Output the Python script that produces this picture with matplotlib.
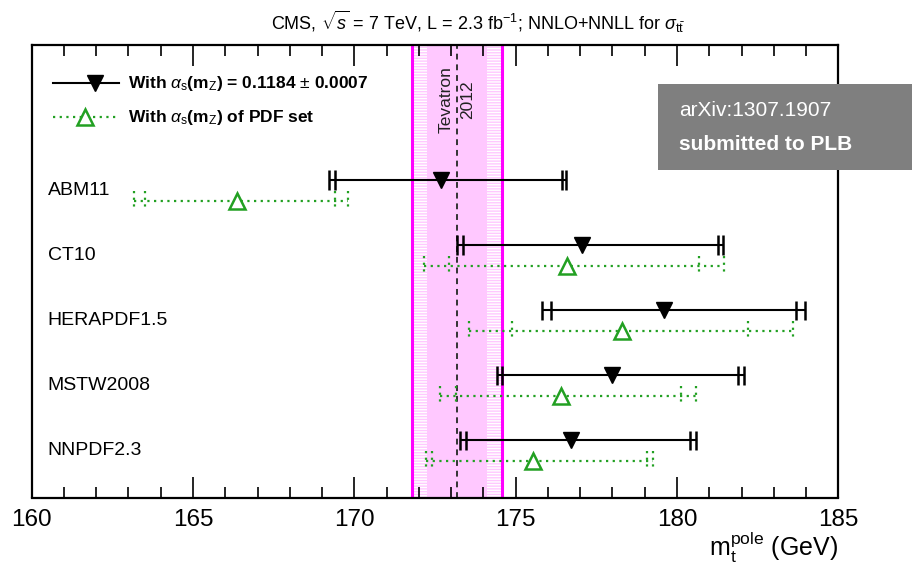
import matplotlib
matplotlib.use("Agg")
import matplotlib.pyplot as plt
from matplotlib.patches import Rectangle

# --- data (GeV) ---
pdf_sets = ["ABM11", "CT10", "HERAPDF1.5", "MSTW2008", "NNPDF2.3"]

# alpha_s fixed to 0.1184 (black, filled down-triangles)
fix_center = [172.70, 177.05, 179.60, 178.00, 176.73]
fix_in_lo = [169.41, 173.36, 176.09, 174.59, 173.47]
fix_in_hi = [176.44, 181.28, 183.68, 181.89, 180.39]
fix_out_lo = [169.20, 173.18, 175.81, 174.41, 173.26]
fix_out_hi = [176.56, 181.44, 183.96, 182.07, 180.58]

# alpha_s of the PDF set (green, open up-triangles)
pdf_center = [166.35, 176.59, 178.29, 176.40, 175.54]
pdf_in_lo = [163.50, 172.94, 174.88, 173.15, 172.42]
pdf_in_hi = [169.41, 180.69, 182.21, 180.11, 179.08]
pdf_out_lo = [163.16, 172.15, 173.55, 172.66, 172.21]
pdf_out_hi = [169.79, 181.47, 183.59, 180.58, 179.27]

# Tevatron 2012 combination
tev_mass = 173.18
tev_inner = 0.94
tev_outer = 1.40

BLACK = "black"
GREEN = "#22a022"
PINK = "#ffc8ff"
MAGENTA = "#ff00ff"

plt.rcParams["font.family"] = ["Liberation Sans", "DejaVu Sans"]
plt.rcParams["mathtext.fontset"] = "custom"
plt.rcParams["mathtext.rm"] = "Liberation Sans"
plt.rcParams["mathtext.it"] = "Liberation Sans:italic"
plt.rcParams["mathtext.bf"] = "Liberation Sans:bold"

fig = plt.figure(figsize=(9.2, 5.65), dpi=100)
ax = fig.add_axes([31.7 / 920, 1 - 497.5 / 565, (838.3 - 31.7) / 920, (497.5 - 45) / 565])

# Tevatron band: pink core, hatched outer parts, magenta edges
ax.axvspan(tev_mass - tev_outer, tev_mass + tev_outer, color=PINK, lw=0, zorder=0)
for lo, hi in [(tev_mass - tev_outer, tev_mass - tev_inner),
               (tev_mass + tev_inner, tev_mass + tev_outer)]:
    ax.axvspan(lo, hi, facecolor="none", edgecolor="white", hatch="------",
               lw=0, zorder=0.5)
for x in (tev_mass - tev_outer, tev_mass + tev_outer):
    ax.axvline(x, color=MAGENTA, lw=2.2, zorder=1)
ax.axvline(tev_mass, color="#333333", lw=1.4, ls=(0, (3, 2.5)), zorder=1)
ax.text(tev_mass, -1.40, "Tevatron\n2012", rotation=90, ha="center", va="center",
        fontsize=12.5, linespacing=1.5, color="#222222", zorder=2)

cap = 0.15
off = 0.16
for i in range(len(pdf_sets)):
    yb = i - off
    yg = i + off
    # fixed alpha_s
    ax.hlines(yb, fix_out_lo[i], fix_out_hi[i], color=BLACK, lw=1.5, zorder=3)
    ax.vlines([fix_out_lo[i], fix_in_lo[i], fix_in_hi[i], fix_out_hi[i]],
              yb - cap, yb + cap, color=BLACK, lw=1.8, zorder=3)
    ax.plot(fix_center[i], yb, marker="v", ms=11, color=BLACK, ls="none", zorder=4)
    # PDF alpha_s
    ax.hlines(yg, pdf_out_lo[i], pdf_out_hi[i], color=GREEN, lw=1.6,
              ls=(0, (1, 2)), zorder=3)
    ax.vlines([pdf_out_lo[i], pdf_in_lo[i], pdf_in_hi[i], pdf_out_hi[i]],
              yg - cap, yg + cap, color=GREEN, lw=1.6, ls=(0, (1, 2)), zorder=3)
    ax.plot(pdf_center[i], yg, marker="^", ms=11, mfc="white", mec=GREEN,
            mew=1.8, ls="none", zorder=4)
    ax.text(160.5, i, pdf_sets[i], ha="left", va="center", fontsize=14, zorder=5)

# legend drawn by hand
ax.plot([160.65, 162.7], [-1.65, -1.65], color=BLACK, lw=1.5)
ax.plot(161.95, -1.65, marker="v", ms=11, color=BLACK)
ax.plot([160.65, 162.7], [-1.13, -1.13], color=GREEN, lw=1.6, ls=(0, (1, 2)))
ax.plot(161.65, -1.13, marker="^", ms=11, mfc="white", mec=GREEN, mew=1.8)
ax.text(163.0, -1.65, r"With $\alpha_{\rm s}$(m$_{\rm Z}$) = 0.1184 $\pm$ 0.0007",
        fontsize=12.5, fontweight="bold", va="center", ha="left")
ax.text(163.0, -1.13, r"With $\alpha_{\rm s}$(m$_{\rm Z}$) of PDF set",
        fontsize=12.5, fontweight="bold", va="center", ha="left")

ax.set_xlim(160, 185)
ax.set_ylim(4.72, -2.24)
ax.set_yticks([])
ax.set_xticks(range(160, 186, 5))
ax.set_xticks(range(160, 186), minor=True)
ax.tick_params(axis="x", which="both", direction="in", top=True, bottom=True,
               labelsize=17.5, pad=8, width=1.2)
ax.tick_params(axis="x", which="major", length=15)
ax.tick_params(axis="x", which="minor", length=8)
for s in ax.spines.values():
    s.set_linewidth(1.6)

fig.text(838 / 920, 1 - 547 / 565, r"m$_{\rm t}^{\rm pole}$ (GeV)", fontsize=18,
         ha="right", va="center")
fig.text(478 / 920, 1 - 22 / 565,
         r"CMS, $\sqrt{s}$ = 7 TeV, L = 2.3 fb$^{-1}$; NNLO+NNLL for $\sigma_{\rm t\bar{t}}$",
         ha="center", va="center", fontsize=13)

# arXiv stamp
fig.add_artist(Rectangle((658 / 920, 1 - 170 / 565), 254 / 920, 86 / 565,
                         transform=fig.transFigure, facecolor="#7f7f7f",
                         edgecolor="none", zorder=10))
fig.text(679 / 920, 1 - 110 / 565, "arXiv:1307.1907", color="white",
         fontsize=15, va="center", ha="left", zorder=11)
fig.text(679 / 920, 1 - 144 / 565, "submitted to PLB", color="white",
         fontsize=15, fontweight="bold", va="center", ha="left", zorder=11)

fig.savefig("out.png", dpi=100)
